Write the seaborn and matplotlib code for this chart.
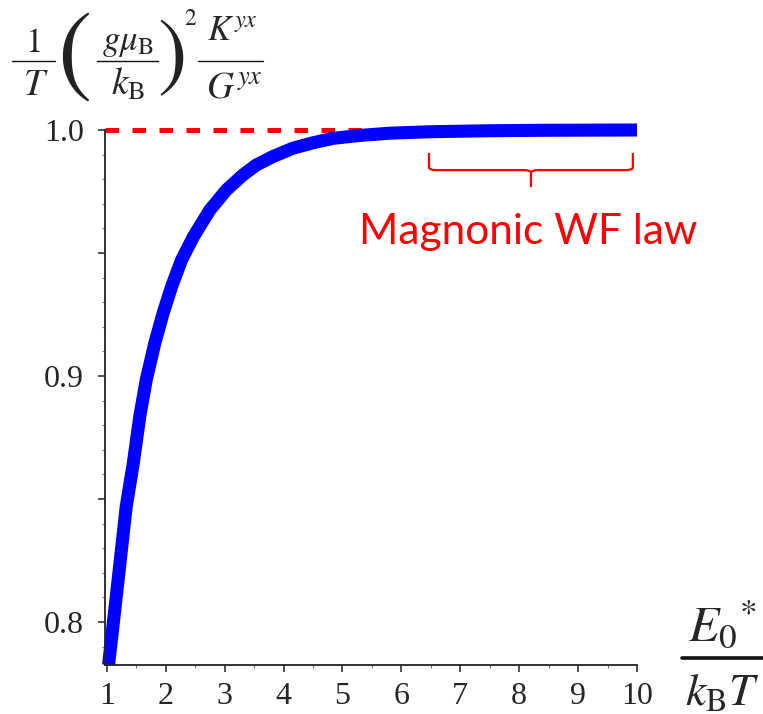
import numpy as np
import pandas as pd
import matplotlib
matplotlib.use('Agg')
import matplotlib.pyplot as plt
from matplotlib import ticker
from matplotlib.path import Path
from matplotlib.patches import PathPatch
from matplotlib.lines import Line2D
import seaborn as sns

# %% Datos
energia = [1.03, 1.04, 1.136, 1.23, 1.33, 1.45, 1.56, 1.67, 1.815, 1.956, 2.10, 2.27,
           2.47, 2.75, 3.03, 3.31, 3.54, 3.82, 4.16, 4.50, 4.84, 5.30, 5.8, 6.5,
           7.5, 8.5, 10.0]
cociente = [0.7825, 0.7846, 0.8049, 0.8252, 0.8469, 0.8645, 0.8835, 0.8984, 0.9133,
            0.9255, 0.9363, 0.9472, 0.9566, 0.9675, 0.9756, 0.9817, 0.9858, 0.9892,
            0.9926, 0.9948, 0.9966, 0.9978, 0.9987, 0.9993, 0.9997, 0.9999, 1.0]
limite_wf = 1.0
llave_desde = 6.47
llave_hasta = 9.93
texto_llave = 'Magnonic WF law'
yticks = [0.8, 0.85, 0.9, 0.95, 1.0]
ytick_labels = ['0.8', '', '0.9', '', '1.0']
xticks = [1, 2, 3, 4, 5, 6, 7, 8, 9, 10]

df = pd.DataFrame({'x': energia, 'y': cociente})

# %% Grafico
sns.set_style('ticks')
plt.rcParams['font.family'] = ['Liberation Serif', 'DejaVu Serif']
plt.rcParams['mathtext.fontset'] = 'stix'

W, H = 763, 714
fig = plt.figure(figsize=(W / 100, H / 100), dpi=100)
ax = fig.add_axes([105 / W, 1 - 665 / H, (637 - 105) / W, (665 - 130) / H])

# linea punteada del limite
ax.axhline(limite_wf, color='#ff0000', linewidth=3.6, dashes=(2.7, 2.7),
           zorder=1, clip_on=False)

sns.lineplot(data=df, x='x', y='y', ax=ax, color='#0000ff', linewidth=9.4,
             zorder=2, solid_capstyle='butt', solid_joinstyle='round', clip_on=False)

ax.set_xlim(0.97, 10)
ax.set_ylim(0.7825, 1.0)
ax.set_xlabel('')
ax.set_ylabel('')
sns.despine(ax=ax)
for s in ['left', 'bottom']:
    ax.spines[s].set_linewidth(1.3)
    ax.spines[s].set_color('#222222')

ax.set_xticks(xticks)
ax.xaxis.set_minor_locator(ticker.MultipleLocator(0.5))
ax.set_yticks(yticks)
ax.set_yticklabels(ytick_labels)
ax.yaxis.set_minor_locator(ticker.MultipleLocator(0.01))
ax.tick_params(which='major', length=5, width=1.1, labelsize=23, color='#222222')
ax.tick_params(axis='y', which='major', pad=10)
ax.tick_params(axis='x', which='major', pad=7)
ax.tick_params(which='minor', length=2.5, width=0.8, color='#777777')

# llave roja
yb_top, yb_mid, yb_tip = 0.9907, 0.9837, 0.9768
xm = (llave_desde + llave_hasta) / 2
r = 0.12
dy = 0.0012
verts = [(llave_desde, yb_top), (llave_desde, yb_mid + dy),
         (llave_desde, yb_mid), (llave_desde + r, yb_mid),
         (xm - r, yb_mid),
         (xm, yb_mid), (xm, yb_mid - dy),
         (xm, yb_tip),
         (xm, yb_mid - dy), (xm, yb_mid), (xm + r, yb_mid),
         (llave_hasta - r, yb_mid),
         (llave_hasta, yb_mid), (llave_hasta, yb_mid + dy),
         (llave_hasta, yb_top)]
codes = [Path.MOVETO, Path.LINETO, Path.CURVE3, Path.CURVE3, Path.LINETO,
         Path.CURVE3, Path.CURVE3, Path.LINETO,
         Path.MOVETO, Path.CURVE3, Path.CURVE3, Path.LINETO,
         Path.CURVE3, Path.CURVE3, Path.LINETO]
ax.add_patch(PathPatch(Path(verts, codes), facecolor='none', edgecolor='#ff0000',
                       linewidth=1.6, zorder=3))

ax.text(xm - 0.05, 0.9585, texto_llave, color='#ff0000', fontsize=30.5,
        family='Lato', ha='center', va='center')


# %% etiquetas de los ejes (armadas a mano, en pixeles de la figura)
def fpos(x, y):
    return x / W, 1 - y / H


def texto(x, y, s, size, va='baseline', **kw):
    fig.text(*fpos(x, y), s, fontsize=size, ha='center', va=va, **kw)


def barra(x0, x1, y, lw=1.0):
    (a, b), (c, _) = fpos(x0, y), fpos(x1, y)
    fig.add_artist(Line2D([a, c], [b, b], color='#111111', linewidth=lw,
                          transform=fig.transFigure))


# 1/T (g mu_B / k_B)^2 K^yx / G^yx
texto(33, 52, r'$1$', 25)
barra(12, 55, 61)
texto(36, 95, r'$T$', 27)
texto(74, 58, r'$($', 74, va='center', color='#222222')
texto(128, 50, r'$g\mu_{\mathrm{B}}$', 25)
barra(97, 158, 61)
texto(128, 95, r'$k_{\mathrm{B}}$', 27)
texto(171, 59, r'$)$', 64, va='center', color='#222222')
texto(191, 25, r'$2$', 17)
texto(232, 40, r'$K^{yx}$', 25)
barra(198, 263, 61)
texto(234, 97, r'$G^{yx}$', 27)

# E0* / kB T
texto(722, 627, r'$E_0{}^{*}$', 36, va='center')
barra(682, 763, 658, lw=2.6)
texto(722, 694, r'$k_{\mathrm{B}}T$', 33, va='center')

fig.savefig('out.png', dpi=100)
